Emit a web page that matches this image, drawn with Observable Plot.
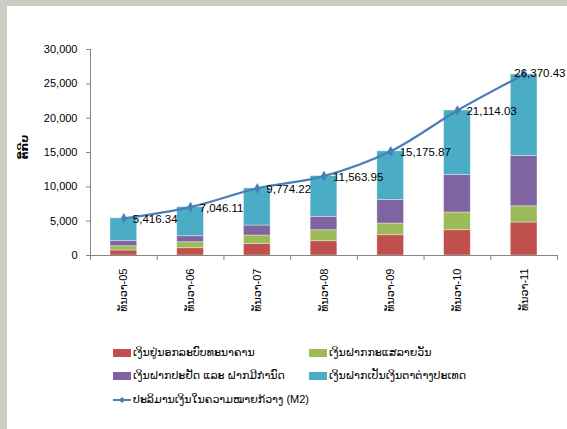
<!DOCTYPE html>
<html>
<head>
<meta charset="utf-8">
<script src="https://cdn.jsdelivr.net/npm/d3@7"></script>
<script src="https://cdn.jsdelivr.net/npm/@observablehq/plot@0.6"></script>
<style>
  html, body { margin: 0; padding: 0; }
  body { width: 567px; height: 429px; background: #c9cec5; position: relative; overflow: hidden;
         font-family: "Liberation Sans", "DejaVu Sans", sans-serif; }
  #card { position: absolute; left: 7px; top: 6px; width: 560px; height: 423px; background: #fff; }
  #chart { position: absolute; left: 0; top: 0; }
  #ylabel { position: absolute; left: 17px; top: 141px; transform: translate(-50%, -50%) rotate(-90deg);
            font-size: 11px; font-weight: bold; color: #000; white-space: nowrap; line-height: 1; }
  .leg { position: absolute; display: flex; align-items: center; font-size: 11px; color: #000; white-space: nowrap; }
  .sw { width: 18px; height: 8px; margin-right: 2px; }
</style>
</head>
<body>
<div id="card">
  <div id="chart"></div>
  <div id="ylabel"></div>
  <div id="legend"></div>
</div>
<script>
const categories = ["ທັນວາ-05", "ທັນວາ-06", "ທັນວາ-07", "ທັນວາ-08", "ທັນວາ-09", "ທັນວາ-10", "ທັນວາ-11"];
const currencyOutside = [730, 1060, 1700, 2080, 2950, 3680, 4800];
const demandDeposits = [620, 875, 1210, 1600, 1700, 2580, 2370];
const savingsTime = [790, 870, 1455, 1950, 3450, 5485, 7330];
const foreignDeposits = [3276, 4238, 5409, 5933, 7072, 9372, 11864];
const m2 = [5416.34, 7046.11, 9774.22, 11563.95, 15175.87, 21114.03, 26370.43];
const seriesNames = [
  "ເງິນຢູ່ນອກລະບົບທະນາຄານ",
  "ເງິນຝາກກະແສລາຍວັນ",
  "ເງິນຝາກປະຢັດ ແລະ ຝາກມີກຳນົດ",
  "ເງິນຝາກເປັນເງິນຕາຕ່າງປະເທດ"
];
const lineName = "ປະລິມານເງິນໃນຄວາມໝາຍກ້ວາງ (M2)";
const seriesColors = ["#c0504d", "#9bbb59", "#8064a2", "#4bacc6"];
const lineColor = "#4a7ebb";
const yTicks = [0, 5000, 10000, 15000, 20000, 25000, 30000];
const yLabel = "ຕື້ກີບ";

const seriesValues = [currencyOutside, demandDeposits, savingsTime, foreignDeposits];
const rows = [];
categories.forEach((c, i) => {
  let cum = 0;
  seriesValues.forEach((vals, s) => {
    rows.push({i, series: seriesNames[s], y1: cum, y2: cum + vals[i]});
    cum += vals[i];
  });
});
const points = m2.map((v, i) => ({i, v}));
const innerPoints = points.slice(0, -1);
const lastPoint = points.slice(-1);
const boundaries = d3.range(categories.length + 1).map(k => k - 0.5);
const fmt = d3.format(",.2f");

const chart = Plot.plot({
  width: 560,
  height: 330,
  marginLeft: 83,
  marginRight: 10,
  marginTop: 43,
  marginBottom: 81,
  style: {fontFamily: "'Liberation Sans', 'DejaVu Sans', sans-serif", fontSize: "11px", background: "transparent", color: "#000"},
  x: {type: "linear", domain: [-0.5, categories.length - 0.5], axis: null},
  y: {domain: [0, 30000], axis: null},
  color: {domain: seriesNames, range: seriesColors},
  marks: [
    Plot.rectY(rows, {x1: d => d.i - 0.2, x2: d => d.i + 0.2, y1: "y1", y2: "y2", fill: "series", stroke: "#fff", strokeOpacity: 0.45, strokeWidth: 0.8}),
    Plot.ruleY([0], {stroke: "#868686"}),
    Plot.ruleX([-0.5], {y1: 0, y2: 30000, stroke: "#868686"}),
    Plot.axisY({ticks: yTicks, tickFormat: d3.format(","), tickSize: 4, tickPadding: 9, stroke: "#868686", fill: "#000", fontSize: 11, label: null}),
    Plot.axisX({ticks: boundaries, tickSize: 5, tickFormat: () => "", stroke: "#868686", label: null}),
    Plot.axisX({ticks: d3.range(categories.length), tickFormat: i => categories[i], tickSize: 0, tickPadding: 13, tickRotate: -90, fontSize: 11, fill: "#000", label: null}),
    Plot.line(points, {x: "i", y: "v", stroke: lineColor, strokeWidth: 2.2, curve: "catmull-rom"}),
    Plot.dot(points, {x: "i", y: "v", symbol: "diamond", r: 3.2, fill: lineColor, stroke: null}),
    Plot.text(innerPoints, {x: "i", y: "v", text: d => fmt(d.v), textAnchor: "start", dx: 9, dy: 1, fontSize: 11.5, fill: "#000"}),
    Plot.text(lastPoint, {y: "v", frameAnchor: "right", text: d => fmt(d.v), textAnchor: "end", dx: 8, dy: -1, fontSize: 11.5, fill: "#000"})
  ]
});
document.getElementById("chart").appendChild(chart);
document.getElementById("ylabel").textContent = yLabel;

// Legend
const legend = document.getElementById("legend");
const legendPos = [[106, 340], [302, 340], [106, 363], [302, 363]];
seriesNames.forEach((name, k) => {
  const el = document.createElement("div");
  el.className = "leg";
  el.style.left = legendPos[k][0] + "px";
  el.style.top = legendPos[k][1] + "px";
  el.innerHTML = `<div class="sw" style="background:${seriesColors[k]}"></div><span></span>`;
  el.querySelector("span").textContent = name;
  legend.appendChild(el);
});
const lineEl = document.createElement("div");
lineEl.className = "leg";
lineEl.style.left = "106px";
lineEl.style.top = "387px";
lineEl.innerHTML = `<svg width="18" height="10" style="margin-right:2px"><line x1="0" y1="5" x2="18" y2="5" stroke="${lineColor}" stroke-width="2"/><path d="M9,2L12,5L9,8L6,5Z" fill="${lineColor}"/></svg><span></span>`;
lineEl.querySelector("span").textContent = lineName;
legend.appendChild(lineEl);
</script>
</body>
</html>
